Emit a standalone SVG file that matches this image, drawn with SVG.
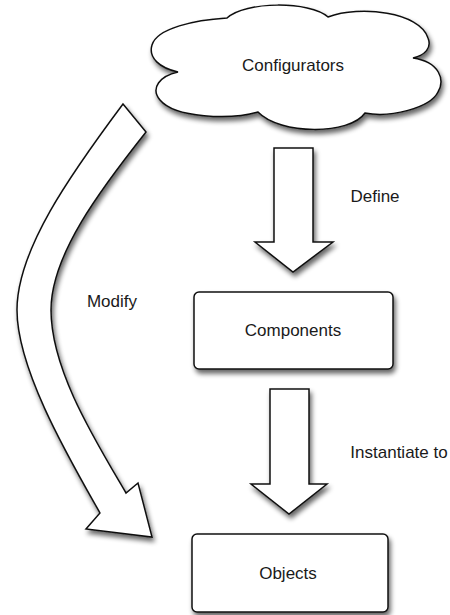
<svg xmlns="http://www.w3.org/2000/svg" width="450" height="615" viewBox="0 0 450 615">
<style>
.shape{fill:#fff;stroke:#111;stroke-width:1.5;stroke-linejoin:miter}
.lbl{font-family:"Liberation Sans",Arial,sans-serif;font-size:17px;fill:#1a1a1a;text-anchor:middle}
</style>
<defs>
<filter id="sh" x="-20%" y="-20%" width="140%" height="140%">
<feGaussianBlur in="SourceAlpha" stdDeviation="2.5"/>
<feOffset dx="2" dy="4" result="b"/>
<feComponentTransfer><feFuncA type="linear" slope="0.6"/></feComponentTransfer>
<feMerge><feMergeNode/><feMergeNode in="SourceGraphic"/></feMerge>
</filter>
</defs>
<rect width="450" height="615" fill="#fff"/>
<g id="connectors">
<g id="define-arrow">
<path class="shape" filter="url(#sh)" d="M274,148 H313 V242 H333 L293,272 L255,242 H274 Z"/>
<text class="lbl" x="375" y="202">Define</text>
</g>
<g id="instantiate-arrow">
<path class="shape" filter="url(#sh)" d="M270,389 H309 V484 H327 L289,514 L251,484 H270 Z"/>
<text class="lbl" x="399" y="458">Instantiate to</text>
</g>
<g id="modify-arrow">
<path class="shape" filter="url(#sh)" d="M123,104 L146,132 C100,190 51,255 51,310 C51,370 95,440 126,493 L138,483 L152,537 L86,529 L100,513 C70,460 17,370 17,310 C17,250 70,175 123,104 Z"/>
<text class="lbl" x="112" y="307">Modify</text>
</g>
</g>
<g id="configurators">
<path class="shape" filter="url(#sh)" d="M178,72 C160,68 148,58 152,45 C157,28 195,20 227,18 C245,1 310,1 328,17 C360,5 420,12 428,38 C432,48 425,55 413,58 C440,62 445,80 438,92 C430,108 390,118 365,113 C350,135 280,135 258,112 C230,120 175,118 160,100 C150,88 160,76 178,72 Z"/>
<text class="lbl" x="293" y="71">Configurators</text>
</g>
<g id="components">
<rect class="shape" filter="url(#sh)" x="194" y="292" width="199" height="77" rx="5"/>
<text class="lbl" x="293" y="336">Components</text>
</g>
<g id="objects">
<rect class="shape" filter="url(#sh)" x="192" y="534" width="196" height="78" rx="5"/>
<text class="lbl" x="288" y="579">Objects</text>
</g>
</svg>
